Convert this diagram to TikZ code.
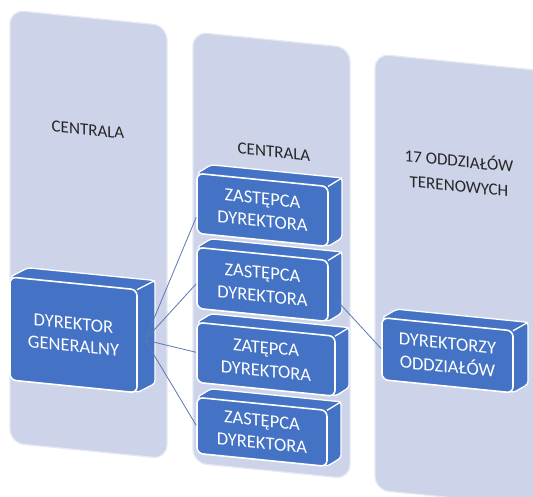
\documentclass[tikz,border=0pt]{standalone}
\usepackage{fontspec}
\setmainfont{Carlito}
\definecolor{panelc}{HTML}{CDD3E8}
\definecolor{paneledge}{HTML}{E6E9F4}
\definecolor{blockc}{HTML}{4472C4}
\definecolor{linec}{HTML}{5A78B4}
\tikzset{
  panelbox/.style={fill=panelc, draw=paneledge, line width=1.2pt, rounded corners=14pt},
  paneltext/.style={font=\fontsize{17}{25}\selectfont, text=black!85, align=center, transform shape},
  blockside/.style={fill=blockc, draw=white, line width=1.3pt, rounded corners=3pt, line join=round},
  blockfront/.style={fill=blockc, draw=white, line width=1.6pt, rounded corners=6pt, transform shape,
    text=white, align=center, font=\fontsize{18.5}{23}\selectfont, inner sep=0pt},
  conn/.style={draw=linec, line width=0.8pt},
}
% name, x, y, w, h, dx, dy, text
\newcommand\blk[8]{%
  \path[blockside] (#2,#3) -- ++(#6,-#7) -- ++(#4,0) -- ++(0,#5) -- ++(-#6,#7) -- cycle;
  \draw[white, line width=1.3pt] (#2+#4,#3) -- ++(#6,-#7);
  \node[blockfront, minimum width=#4pt, minimum height=#5pt] (#1) at (#2+#4/2,#3+#5/2) {#8};
}
\begin{document}
\begin{tikzpicture}[x=1pt, y=-1pt]
\useasboundingbox (0,0) rectangle (533,497);
\clip (0,0) rectangle (533,497);
\fill[white] (0,0) rectangle (533,497);
% column 1
\begin{scope}[shift={(10,0)}, yslant=-0.1]
  \path[panelbox] (0,10) rectangle (157,443);
  \node[paneltext] (t1) at (78,122) {CENTRALA};
  \blk{dir}{0}{277}{127}{103}{18}{11}{DYREKTOR\\GENERALNY}
\end{scope}
% column 2
\begin{scope}[shift={(193,0)}, yslant=-0.1]
  \path[panelbox] (0,32) rectangle (157,463);
  \node[paneltext] (t2) at (81,144) {CENTRALA};
  \blk{zA}{4}{173}{131}{60}{14}{10}{ZASTĘPCA\\DYREKTORA}
  \blk{zB}{4}{247}{131}{61}{14}{10}{ZASTĘPCA\\DYREKTORA}
  \blk{zC}{4}{322}{138}{60}{14}{10}{ZATĘPCA\\DYREKTORA}
  \blk{zD}{4}{397}{130}{56}{14}{10}{ZASTĘPCA\\DYREKTORA}
\end{scope}
% column 3
\begin{scope}[shift={(375,0)}, yslant=-0.1]
  \path[panelbox] (0,54) rectangle (190,490);
  \node[paneltext] (t3) at (84,164) {17 ODDZIAŁÓW\\TERENOWYCH};
  \blk{dyr}{7}{317}{131}{62}{15}{10}{DYREKTORZY\\ODDZIAŁÓW}
\end{scope}
% connectors
\coordinate (dirport) at (145,340);
\draw[conn] (dirport) -- ([yshift=-14pt]zA.west);
\draw[conn] (dirport) -- ([yshift=-6pt]zB.west);
\draw[conn] (dirport) -- (zC.west);
\draw[conn] (dirport) -- (zD.west);
\draw[conn] ([shift={(4pt,-5pt)}]zB.east) -- (dyr.west);
\end{tikzpicture}
\end{document}
